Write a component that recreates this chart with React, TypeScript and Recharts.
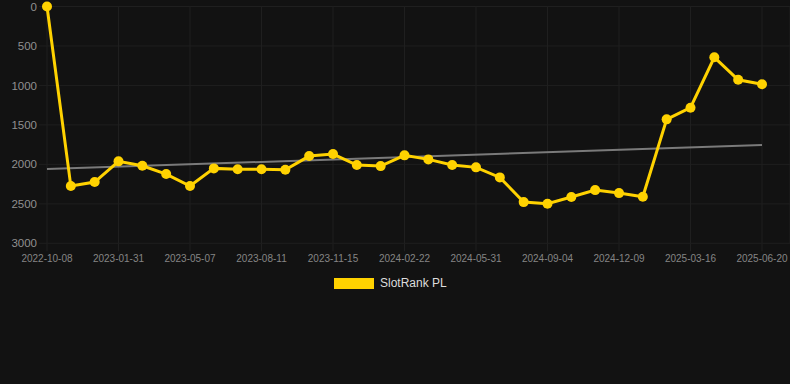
import React from 'react';
import { LineChart, Line, XAxis, YAxis, CartesianGrid, ReferenceLine } from 'recharts';

const dates = [
    '2022-10-08', '2022-11-15', '2022-12-23', '2023-01-31', '2023-03-03', '2023-04-05',
    '2023-05-07', '2023-06-08', '2023-07-10', '2023-08-11', '2023-09-12', '2023-10-14',
    '2023-11-15', '2023-12-18', '2024-01-20', '2024-02-22', '2024-03-26', '2024-04-28',
    '2024-05-31', '2024-07-02', '2024-08-03', '2024-09-04', '2024-10-06', '2024-11-07',
    '2024-12-09', '2025-01-10', '2025-02-12', '2025-03-16', '2025-04-17', '2025-05-19',
    '2025-06-20',
];

// rank values (lower = better, axis reversed)
const ranks = [
    0, 2275, 2224, 1962, 2018, 2123, 2275, 2051, 2063, 2063, 2068, 1895, 1869, 2009, 2022,
    1886, 1937, 2009, 2038, 2165, 2478, 2499, 2414, 2326, 2364, 2410, 1430, 1282, 644, 928,
    986,
];

// trend line end values
const trendEnds = [2060, 1755];

const yTicks = [0, 500, 1000, 1500, 2000, 2500, 3000];

const data = dates.map((d, i) => ({ date: d, rank: ranks[i] }));

const font = 'Arial, "Liberation Sans", sans-serif';
const yellow = '#FFD200';
const gridColor = '#1f1f1f';

export default function App() {
    return (
        <div style={{ position: 'fixed', left: 0, top: 0, width: 790, height: 384, background: '#121212', fontFamily: font }}>
            <LineChart width={790} height={384} data={data} margin={{ top: 6.5, right: 0, left: 0, bottom: 110.7 }}>
                <CartesianGrid stroke={gridColor} strokeWidth={1} />
                <XAxis
                    dataKey="date"
                    interval={2}
                    padding={{ left: 0, right: 28 }}
                    axisLine={false}
                    tickLine={{ stroke: gridColor }}
                    tickSize={8}
                    tickMargin={4}
                    height={30}
                    tick={{ fill: '#858585', fontSize: 10, fontFamily: font }}
                />
                <YAxis
                    reversed
                    domain={[0, 3000]}
                    ticks={yTicks}
                    width={47}
                    axisLine={false}
                    tickLine={{ stroke: gridColor }}
                    tickSize={8}
                    tickMargin={2}
                    tick={{ fill: '#909090', fontSize: 11.5, fontFamily: font }}
                />
                <ReferenceLine
                    segment={[{ x: dates[0], y: trendEnds[0] }, { x: dates[dates.length - 1], y: trendEnds[1] }]}
                    stroke="#7a7a7a"
                    strokeWidth={2}
                />
                <Line
                    dataKey="rank"
                    stroke={yellow}
                    strokeWidth={3}
                    dot={{ r: 5, fill: yellow, stroke: yellow, strokeWidth: 0 }}
                    activeDot={false}
                    isAnimationActive={false}
                />
            </LineChart>
            <div style={{ position: 'absolute', left: 334, top: 278, display: 'flex', alignItems: 'center' }}>
                <div style={{ width: 40, height: 11, background: yellow }} />
                <span style={{ marginLeft: 6, color: '#dddddd', fontSize: 12, lineHeight: '11px' }}>SlotRank PL</span>
            </div>
        </div>
    );
}
